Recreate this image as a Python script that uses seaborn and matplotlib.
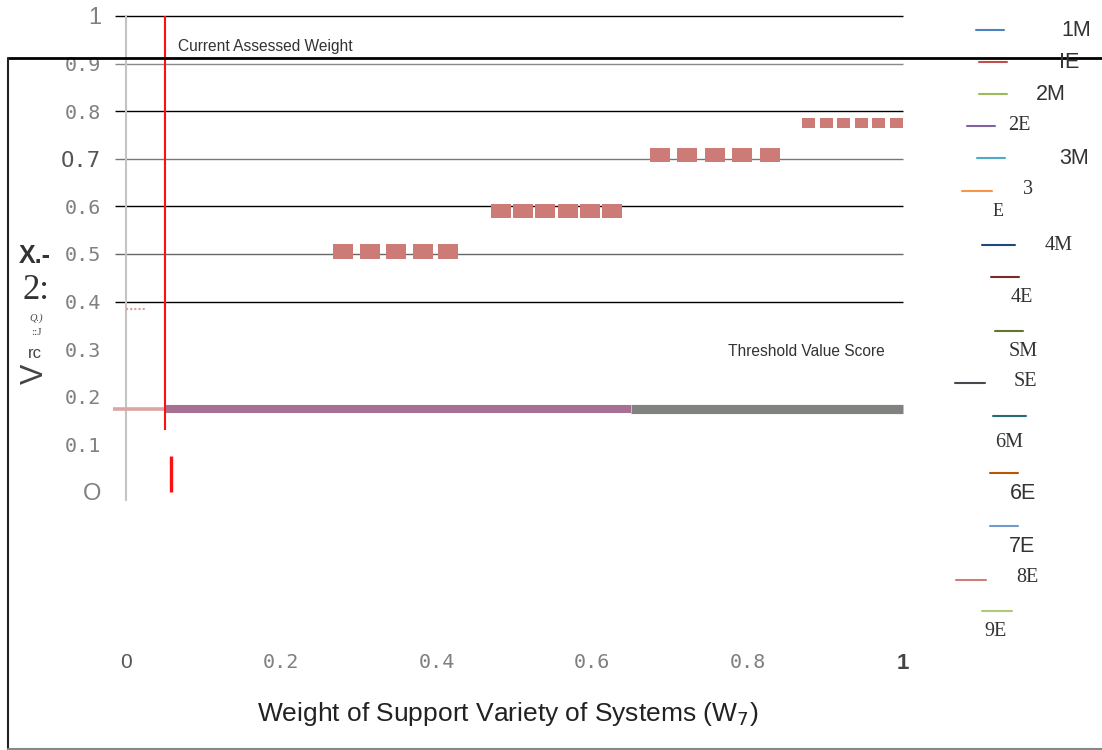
import matplotlib
matplotlib.use("Agg")
import matplotlib.pyplot as plt
import seaborn as sns
import pandas as pd
from matplotlib.lines import Line2D

# ---- data ----
threshold = 0.175
current_weight = 0.05

# threshold line pieces (x start, x end)
thr_pink_x = [-0.017, 0.05]
thr_purple_x = [0.05, 0.65]
thr_gray_x = [0.65, 1.0]

# short dotted pink stub
stub_x = [0.0, 0.026]
stub_y = [0.385, 0.385]

# red "current weight" marks
red_main_y = [0.13, 1.0]
red_low_x = 0.058
red_low_y = [0.0, 0.075]

# square marker groups
g1_x = [0.279, 0.314, 0.347, 0.382, 0.415]
g1_y = [0.505] * 5
g2_x = [0.483, 0.511, 0.539, 0.569, 0.597, 0.625]
g2_y = [0.59] * 6
g3_x = [0.687, 0.722, 0.758, 0.793, 0.829]
g3_y = [0.708] * 5
g4_x = [0.879, 0.902, 0.924, 0.947, 0.969, 0.992]
g4_y = [0.775] * 6

grid_levels = [1.0, 0.9, 0.8, 0.7, 0.6, 0.5, 0.4]
y_ticks = [0, 0.1, 0.2, 0.3, 0.4, 0.5, 0.6, 0.7, 0.8, 0.9, 1.0]
y_tick_labels = ["O", "0.1", "0.2", "0.3", "0.4", "0.5", "0.6", "O.7", "0.8", "0.9", "1"]
x_ticks = [0, 0.2, 0.4, 0.6, 0.8, 1.0]
x_tick_labels = ["0", "0.2", "0.4", "0.6", "0.8", "1"]

legend_labels = ["1M", "IE", "2M", "2E", "3M", "3", "4M", "4E", "SM", "SE",
                 "6M", "6E", "7E", "8E", "9E"]
legend_colors = ["#4F81BD", "#C0504D", "#9BBB59", "#8064A2", "#4BACC6", "#F79646",
                 "#1F497D", "#772C2A", "#5F7530", "#4A474E", "#276A7C", "#B65708",
                 "#729ACA", "#D07D7B", "#AFC97A"]

# ---- layout (pixels) ----
W, H = 1102, 750
# line x0, x1, y ; text x, y, family
legend_layout = [
    (976, 1004, 30, 1061, 30, "sans"),
    (979, 1007, 62, 1059, 62, "sans"),
    (979, 1007, 94, 1036, 94, "sans"),
    (967, 995, 126, 1008, 126, "serif"),
    (977, 1005, 158, 1059, 158, "sans"),
    (962, 992, 191, 1023, 189, "serif"),
    (982, 1015, 245, 1045, 245, "serif"),
    (991, 1019, 277, 1011, 297, "serif"),
    (995, 1023, 331, 1009, 351, "serif"),
    (955, 985, 383, 1014, 382, "serif"),
    (993, 1026, 416, 995, 442, "serif"),
    (990, 1018, 473, 1010, 494, "sans"),
    (990, 1018, 526, 1009, 547, "sans"),
    (956, 986, 580, 1016, 578, "serif"),
    (982, 1012, 611, 984, 632, "serif"),
]


def fx(x):
    return x / W


def fy(y):
    return 1 - y / H


sns.set_style("white")
plt.rcParams["font.family"] = ["Liberation Sans", "DejaVu Sans"]

fig = plt.figure(figsize=(11.02, 7.5), dpi=100)
ax = fig.add_axes([fx(126), fy(500), fx(903) - fx(126), fy(16) - fy(500)])
ax.set_xlim(0, 1)
ax.set_ylim(-0.017, 1.0)

# grid lines (only the upper ones are drawn)
grid_colors = ["black", "#8a8a8a", "black", "#777777", "black", "#666666", "black"]
for lvl, c in zip(grid_levels, grid_colors):
    ax.hlines(lvl, -0.014, 1.0, color=c, lw=1.0, clip_on=False, zorder=1)

# threshold line
thr = pd.DataFrame({
    "x": thr_pink_x + thr_purple_x + thr_gray_x,
    "y": [threshold] * 6,
    "part": ["pink"] * 2 + ["purple"] * 2 + ["gray"] * 2,
})
for part, color, lw in [("pink", "#DDA4A4", 2.6), ("purple", "#A57091", 5.8), ("gray", "#808280", 6.6)]:
    d = thr[thr["part"] == part]
    sns.lineplot(data=d, x="x", y="y", color=color, lw=lw, ax=ax,
                 solid_capstyle="butt", clip_on=False, zorder=3)

sns.lineplot(x=stub_x, y=stub_y, color="#E09A9A", lw=1.5, ls=(0, (1, 1)), ax=ax, zorder=3)

# current assessed weight
ax.vlines(current_weight, red_main_y[0], red_main_y[1], color="#FF1010", lw=1.5, zorder=4)
ax.vlines(red_low_x, red_low_y[0], red_low_y[1], color="#FF1010", lw=2.4, zorder=4)

# square markers
rect = [(-1, -0.72), (1, -0.72), (1, 0.72), (-1, 0.72), (-1, -0.72)]
for gx, gy, s in [(g1_x, g1_y, 207), (g2_x, g2_y, 207), (g3_x, g3_y, 207), (g4_x, g4_y, 88)]:
    sns.scatterplot(x=gx, y=gy, marker=rect, s=s, color="#CD7B77", edgecolor="none",
                    linewidth=0, ax=ax, zorder=5)

# axes styling
for side in ["top", "right", "bottom"]:
    ax.spines[side].set_visible(False)
ax.spines["left"].set_color("#C4C4C0")
ax.spines["left"].set_linewidth(1.5)
ax.set_xlabel("")
ax.set_ylabel("")

ax.set_yticks(y_ticks)
ax.set_yticklabels(y_tick_labels)
ax.tick_params(axis="y", length=0, pad=18)
for lab in ax.get_yticklabels():
    lab.set_fontfamily("DejaVu Sans Mono")
    lab.set_fontsize(14.5)
    lab.set_color("#808080")
ylabs = ax.get_yticklabels()
ylabs[0].set_fontfamily("Liberation Sans")
ylabs[0].set_fontsize(17)
ylabs[-1].set_fontfamily("Liberation Sans")
ylabs[-1].set_fontsize(17)
ylabs[7].set_fontsize(16)
ylabs[7].set_color("#555555")

ax.set_xticks(x_ticks)
ax.set_xticklabels(x_tick_labels)
ax.tick_params(axis="x", length=0, pad=110)
for lab in ax.get_xticklabels():
    lab.set_fontfamily("DejaVu Sans Mono")
    lab.set_fontsize(14.5)
    lab.set_color("#808080")
xlabs = ax.get_xticklabels()
xlabs[0].set_fontfamily("Liberation Sans")
xlabs[0].set_fontsize(15)
xlabs[0].set_color("#555555")
xlabs[-1].set_fontfamily("Liberation Sans")
xlabs[-1].set_fontweight("bold")
xlabs[-1].set_fontsize(16)
xlabs[-1].set_color("#444444")

# annotations
fig.text(fx(178), fy(46), "Current Assessed Weight", fontsize=11.2, color="#333333",
         ha="left", va="center")
fig.text(fx(728), fy(351), "Threshold Value Score", fontsize=11.2, color="#333333",
         ha="left", va="center")

fig.text(fx(508), fy(714), "Weight of Support Variety of Systems (W$_7$)",
         fontsize=19, color="#222222", ha="center", va="center",
         family=["Liberation Sans Narrow", "Liberation Sans"])

# garbled y-axis label pieces
fig.text(fx(35), fy(256), "X.-", fontsize=18, color="#333333", ha="center", va="center",
         weight="bold", family=["Liberation Sans Narrow", "Liberation Sans"])
fig.text(fx(36), fy(290), "2:", fontsize=25, color="#333333", ha="center", va="center",
         family="Liberation Serif")
fig.text(fx(36), fy(318), "Q.)", fontsize=7.5, color="#444444", ha="center", va="center",
         family="Liberation Serif", style="italic")
fig.text(fx(36), fy(333), "::J", fontsize=8, color="#444444", ha="center", va="center",
         family="Liberation Serif")
fig.text(fx(35), fy(354), "rc", fontsize=12, color="#444444", ha="center", va="center")
fig.text(fx(35), fy(374), "V", fontsize=22, color="#444444", ha="center", va="center",
         rotation=90)

# legend drawn by hand
for lab, col, (x0, x1, ly, tx, ty, fam) in zip(legend_labels, legend_colors, legend_layout):
    fig.add_artist(Line2D([fx(x0), fx(x1)], [fy(ly), fy(ly)], color=col, lw=1.5,
                          transform=fig.transFigure))
    if fam == "serif":
        fig.text(fx(tx), fy(ty), lab, fontsize=14.5, color="#333333", ha="left",
                 va="center", family="Liberation Serif")
    else:
        fig.text(fx(tx), fy(ty), lab, fontsize=15.5, color="#333333", ha="left",
                 va="center", family="Liberation Sans")
fig.text(fx(993), fy(212), "E", fontsize=13, color="#333333", ha="left", va="center",
         family="Liberation Serif")

# outer frame
fig.add_artist(Line2D([fx(8), 1.0], [fy(58), fy(58)], color="black", lw=2.0,
                      transform=fig.transFigure))
fig.add_artist(Line2D([fx(8), fx(8)], [fy(58), fy(749)], color="#222222", lw=1.5,
                      transform=fig.transFigure))
fig.add_artist(Line2D([fx(8), 1.0], [fy(748.5), fy(748.5)], color="#888888", lw=1.5,
                      transform=fig.transFigure))

fig.savefig("out.png", dpi=100)
